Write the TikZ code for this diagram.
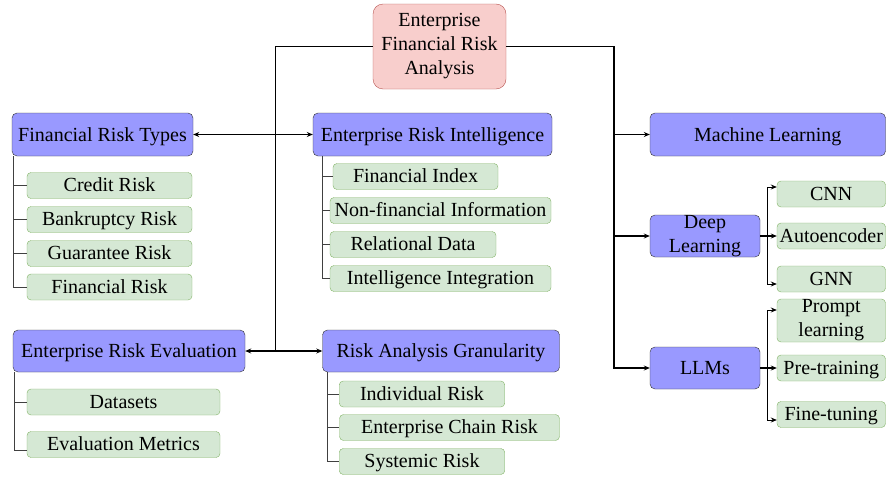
\documentclass[tikz,border=0pt]{standalone}
\usepackage{fontspec}
\setmainfont{Liberation Serif}
\newfontfamily\diagfont{Liberation Serif}
\usetikzlibrary{arrows.meta}
\definecolor{rootfill}{HTML}{F8CECC}
\definecolor{rootline}{HTML}{B85450}
\definecolor{catfill}{HTML}{9999FF}
\definecolor{leaffill}{HTML}{D5E8D4}
\definecolor{leafline}{HTML}{82B366}

\begin{document}
\begin{tikzpicture}[x=1pt,y=-1pt,
    every node/.style={font=\diagfont\fontsize{20}{24}\selectfont},
    rootbox/.style={draw=rootline,fill=rootfill,rounded corners=10pt,align=center,inner sep=0pt,minimum width=133pt,minimum height=85pt},
    catbox/.style={draw=black!80,fill=catfill,rounded corners=5pt,align=center,inner sep=0pt,minimum height=42pt,text height=16pt,text depth=3pt},
    leafbox/.style={draw=leafline,fill=leaffill,rounded corners=4pt,align=center,inner sep=0pt,minimum height=26pt,text height=15pt,text depth=3pt},
    twolines/.style={text height=,text depth=},
    trunk/.style={line width=1.3pt},
    link/.style={line width=1.1pt,-{Stealth[length=6pt,width=5pt]}},
    dlink/.style={line width=1.1pt,{Stealth[length=6pt,width=5pt]}-{Stealth[length=6pt,width=5pt]}},
    branch/.style={black!75,line width=1pt}]
  \useasboundingbox (0,0) rectangle (886,479);

  % root
  \node[rootbox] (root) at (439.5,46.5) {Enterprise\\Financial Risk\\Analysis};

  % main topics
  \node[catbox,minimum width=181pt,minimum height=43pt] (types) at (102.5,134.5) {Financial Risk Types};
  \node[catbox,minimum width=239pt,minimum height=43pt] (intel) at (432.5,134.5) {Enterprise Risk Intelligence};
  \node[catbox,minimum width=232pt] (eval) at (129,351) {Enterprise Risk Evaluation};
  \node[catbox,minimum width=237pt] (gran) at (441,351) {Risk Analysis Granularity};
  \node[catbox,minimum width=235.5pt,minimum height=43pt] (ml) at (767.75,134.5) {Machine Learning};
  \node[catbox,twolines,minimum width=110pt] (dl) at (705,236) {Deep\\Learning};
  \node[catbox,minimum width=110pt] (llm) at (705,368) {LLMs};

  % risk types
  \foreach \name/\y/\txt in {credit/185.5/Credit Risk, bankrupt/219.5/Bankruptcy Risk,
      guarantee/253.5/Guarantee Risk, finrisk/287/Financial Risk} {
    \node[leafbox,minimum width=165pt] (\name) at (109.5,\y) {\txt};
    \draw[branch] ([xshift=1.5pt]types.south west) |- (\name.west);
  }

  % risk intelligence
  \node[leafbox,minimum width=165pt] (index) at (415.5,176.5) {Financial Index};
  \node[leafbox,minimum width=221pt] (nonfin) at (440.5,210.5) {Non-financial Information};
  \node[leafbox,minimum width=166pt] (relation) at (413,244.5) {Relational Data};
  \node[leafbox,minimum width=221pt] (integr) at (440.5,278.5) {Intelligence Integration};
  \foreach \name in {index,nonfin,relation,integr}
    \draw[branch] ([xshift=9.5pt]intel.south west) |- (\name.west);

  % evaluation
  \node[leafbox,minimum width=193pt] (data) at (123.5,402) {Datasets};
  \node[leafbox,minimum width=193pt] (metric) at (123.5,444.5) {Evaluation Metrics};
  \draw[branch] ([xshift=1.5pt]eval.south west) |- (data.west);
  \draw[branch] ([xshift=1.5pt]eval.south west) |- ([yshift=-6pt]metric.west);

  % granularity
  \node[leafbox,minimum width=165.5pt] (indiv) at (422,394) {Individual Risk};
  \node[leafbox,minimum width=220pt] (chain) at (449.5,427.5) {Enterprise Chain Risk};
  \node[leafbox,minimum width=165.5pt] (system) at (422,461.5) {Systemic Risk};
  \foreach \name in {indiv,chain,system}
    \draw[branch] ([xshift=5.5pt]gran.south west) |- (\name.west);

  % deep learning
  \node[leafbox,minimum width=108.5pt] (cnn) at (831.25,194) {CNN};
  \node[leafbox,minimum width=108.5pt] (auto) at (831.25,236) {Autoencoder};
  \node[leafbox,minimum width=108.5pt] (gnn) at (831.25,279) {GNN};
  \draw[link,line width=0.9pt] (dl.east) -- ++(7,0) |- ([yshift=7pt]cnn.west);
  \draw[link] (dl.east) -- (auto.west);
  \draw[link,line width=0.9pt] (dl.east) -- ++(7,0) |- ([yshift=-5pt]gnn.west);

  % llms
  \node[leafbox,twolines,minimum width=108.5pt,minimum height=43pt] (prompt) at (831.25,320.5) {Prompt\\learning};
  \node[leafbox,minimum width=108.5pt] (pretrain) at (831.25,368) {Pre-training};
  \node[leafbox,minimum width=108.5pt] (finetune) at (831.25,414.5) {Fine-tuning};
  \draw[link,line width=0.9pt] (llm.east) -- ++(7,0) |- ([yshift=10.5pt]prompt.west);
  \draw[link] (llm.east) -- (pretrain.west);
  \draw[link,line width=0.9pt] (llm.east) -- ++(7,0) |- ([yshift=-5.5pt]finetune.west);

  % trunks
  \coordinate (tl) at (275.5,351);
  \coordinate (tr) at (614,368);
  \draw[trunk] (root.west) -| (tl);
  \draw[dlink] (types.east) -- (intel.west);
  \draw[dlink] (eval.east) -- (gran.west);
  \draw[link,line width=1.3pt] (root.east) -| (tr) -- (llm.west);
  \draw[link] (ml.west -| tr) -- (ml.west);
  \draw[link] (dl.west -| tr) -- (dl.west);
\end{tikzpicture}
\end{document}
